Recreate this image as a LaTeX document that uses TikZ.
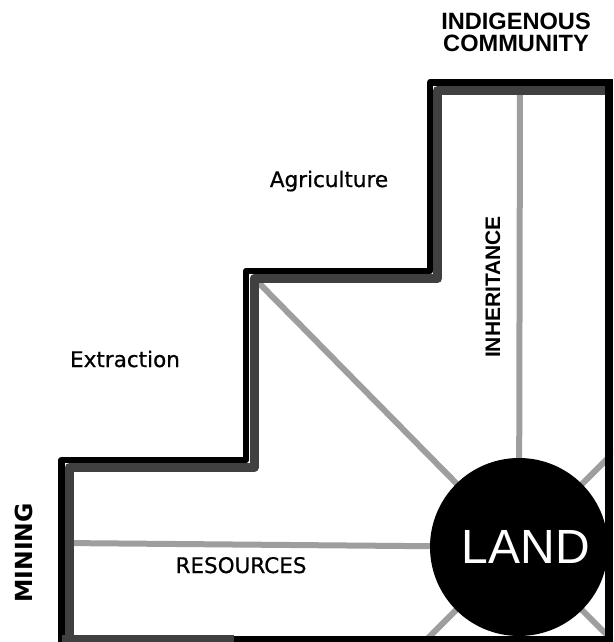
\documentclass[tikz,border=0pt]{standalone}
\usepackage{fontspec}
\setmainfont{DejaVu Sans}
\newfontfamily\headfont{Liberation Sans}
\newfontfamily\lblfont[FakeBold=0.7]{DejaVu Sans}
\usetikzlibrary{positioning}

\begin{document}
\begin{tikzpicture}[x=1pt,y=-1pt,line join=round,line cap=butt]
	\tikzset{wall/.style={line width=6.5pt,black},
		band/.style={line width=9pt,black!75},
		ray/.style={line width=6pt,black!38},
		lbl/.style={font=\lblfont\fontsize{21.5}{24}\selectfont,anchor=base},
		side/.style={rotate=90,font=\bfseries\fontsize{23.5}{26}\selectfont}}
	\useasboundingbox (0,0) rectangle (613,642);
	\begin{scope}
		\clip (0,0) rectangle (613,642);
		\coordinate (hub) at (519,547);
		% ends of the spokes
		\coordinate (r-n) at (520,90);
		\coordinate (r-nw) at (252,276);
		\coordinate (r-w) at (62,543);
		\coordinate (r-ne) at (620,446);
		\coordinate (r-se) at (620,648);
		\coordinate (r-sw) at (418,648);
		\foreach \e in {n,nw,w,ne,se,sw}
		\draw[ray] (hub)--(r-\e);
		% the steps
		\draw[band] (613,90.5) -| (437.5,278.5) -| (254,467.5) -| (69,642);
		\draw[wall] (613,82.5) -| (430,271) -| (246,460) -| (61.5,642);
		\draw[band] (61.5,639)--(234,639);
		\draw[wall] (234,639)--(613,639);
		\draw[wall,line width=8pt] (609,82.5)--(609,642);
		\node[circle,fill=black,minimum size=178pt,inner sep=0pt] (land) at (hub) {};
		\node[text=white,font=\headfont\fontsize{48}{48}\selectfont] (landtxt) at ([xshift=7pt]land.center) {LAND};
	\end{scope}
	\node[align=center,font=\headfont\bfseries\fontsize{23.6}{22}\selectfont] (community) at (516,32) {INDIGENOUS\\COMMUNITY};
	\node[lbl] (agri) at (329,187) {Agriculture};
	\node[lbl] (extract) at (125,367) {Extraction};
	\node[lbl] (res) at (241,573) {RESOURCES};
	\node[side,font=\headfont\bfseries\fontsize{21}{22}\selectfont] (inherit) at (493,287) {INHERITANCE};
	\node[side] (mining) at (24,553) {MINING};
\end{tikzpicture}
\end{document}
